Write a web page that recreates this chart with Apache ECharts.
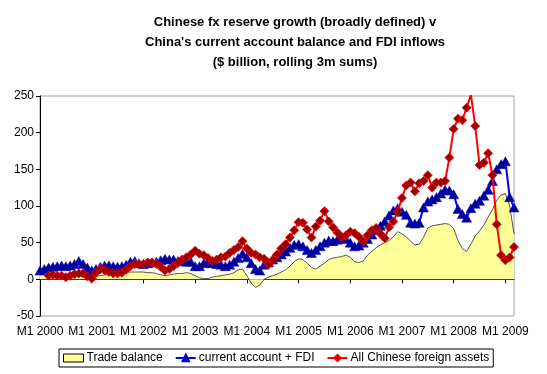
<!DOCTYPE html>
<html>
<head>
<meta charset="utf-8">
<script src="https://cdn.jsdelivr.net/npm/echarts@6/dist/echarts.min.js"></script>
<style>
html,body{margin:0;padding:0;background:#fff;}
#chart{width:547px;height:374px;}
</style>
</head>
<body>
<div id="chart"></div>
<script>
var years = [2000, 2001, 2002, 2003, 2004, 2005, 2006, 2007, 2008, 2009];
var monthsInLastYear = 3;
var yTicks = { min: -50, max: 250, interval: 50 };
var seriesNames = ['Trade balance', 'current account + FDI', 'All Chinese foreign assets'];

var tradeBalance = [6,7,7,7,7,6,6,7,6,5,4,3,3,4,5,6,7,8,9,10,10,10,10,10,10,9,9,8,6,5,6,7,8,8,9,8,5,2,1,1,3,4,5,6,7,9,13,14,5,-5,-11,-8,0,3,5,7,10,13,18,24,28,27,22,16,14,18,22,27,29,30,31,33,30,24,23,25,33,38,43,47,50,53,58,65,62,58,52,47,48,57,70,73,74,75,76,75,69,53,42,38,48,59,66,74,85,95,108,115,117,100,62];

var caPlusFdi = [12,14,16,17,18,19,18,19,21,25,21,16,12,14,17,19,19,18,17,18,20,24,25,22,21,22,23,24,26,28,27,27,25,25,24,24,18,18,22,24,22,21,20,18,20,24,29,35,30,22,14,12,20,23,27,30,34,38,43,47,48,45,40,36,40,45,50,53,52,54,57,55,50,45,46,50,55,61,67,73,79,87,94,97,92,88,77,76,77,98,106,109,112,117,122,121,116,96,89,84,97,103,107,114,122,134,150,157,161,112,98];

var foreignAssets = [null,null,5,6,5,5,3,5,7,8,8,4,1,9,14,12,10,8,8,9,13,18,21,20,21,23,23,21,17,12,14,18,22,27,30,34,39,35,33,29,25,27,30,31,36,40,44,52,42,36,34,30,28,20,26,34,42,48,57,67,78,77,68,57,72,80,93,79,71,64,58,60,65,63,58,52,60,67,70,62,56,71,79,92,111,128,132,120,131,134,142,125,132,132,134,166,205,219,217,234,252,209,156,159,172,142,75,33,26,30,44];

var categories = [];
years.forEach(function (y, yi) {
  var n = (yi === years.length - 1) ? monthsInLastYear : 12;
  for (var m = 1; m <= n; m++) categories.push('M' + m + ' ' + y);
});
function isJan(i) { return i % 12 === 0; }

var chart = echarts.init(document.getElementById('chart'), null, { renderer: 'canvas' });
var font = 'Arial, "Liberation Sans", sans-serif';
chart.setOption({
  animation: false,
  backgroundColor: '#ffffff',
  title: {
    text: "Chinese fx reserve growth (broadly defined) v\nChina's current account balance and FDI inflows\n($ billion, rolling 3m sums)",
    left: 290,
    top: 7,
    textAlign: 'center',
    textStyle: { fontFamily: font, fontSize: 13, fontWeight: 'bold', color: '#000', lineHeight: 20 }
  },
  grid: {
    left: 40, top: 96, right: 33, bottom: 58,
    show: true, borderColor: '#a0a0a0', borderWidth: 1
  },
  legend: {
    left: 59, top: 349,
    padding: [3, 4, 3, 4],
    borderColor: '#000', borderWidth: 1,
    itemWidth: 20, itemHeight: 8, itemGap: 12,
    textStyle: { fontFamily: font, fontSize: 12, color: '#000', padding: [0, 0, 0, -2] },
    data: [
      { name: seriesNames[0], icon: 'rect', itemStyle: { color: '#FFFF99', borderColor: '#000', borderWidth: 1 } },
      { name: seriesNames[1] },
      { name: seriesNames[2] }
    ]
  },
  xAxis: [
    {
      type: 'category', data: categories, boundaryGap: false, position: 'bottom',
      axisLine: { show: false, onZero: false },
      axisTick: { show: false },
      axisLabel: {
        interval: function (i) { return isJan(i); },
        fontFamily: font, fontSize: 12, color: '#000', margin: 10
      },
      splitLine: { show: false }
    },
    {
      type: 'category', data: categories, boundaryGap: false, position: 'bottom',
      axisLine: { show: true, onZero: true, lineStyle: { color: '#000', width: 1 } },
      axisTick: { show: true, interval: function (i) { return isJan(i); }, length: 4, lineStyle: { color: '#000' } },
      axisLabel: { show: false },
      splitLine: { show: false }
    }
  ],
  yAxis: {
    type: 'value', min: yTicks.min, max: yTicks.max, interval: yTicks.interval,
    axisLine: { show: true, lineStyle: { color: '#000' } },
    axisTick: { show: true, length: 4, lineStyle: { color: '#000' } },
    axisLabel: { fontFamily: font, fontSize: 12, color: '#000', margin: 6 },
    splitLine: { show: false }
  },
  series: [
    {
      name: seriesNames[0], type: 'line', data: tradeBalance, xAxisIndex: 0,
      symbol: 'none', smooth: false,
      lineStyle: { color: '#555555', width: 1 },
      itemStyle: { color: '#FFFF99', borderColor: '#000' },
      areaStyle: { color: '#FFFF99', opacity: 1 },
      z: 1
    },
    {
      name: seriesNames[1], type: 'line', data: caPlusFdi, xAxisIndex: 0,
      symbol: 'triangle', symbolSize: [10, 9], showSymbol: true, showAllSymbol: true,
      lineStyle: { color: '#0000FF', width: 2 },
      itemStyle: { color: '#000099', borderColor: '#0000CC', borderWidth: 0.5 },
      z: 3
    },
    {
      name: seriesNames[2], type: 'line', data: foreignAssets, xAxisIndex: 0,
      symbol: 'diamond', symbolSize: 9, showSymbol: true, showAllSymbol: true,
      lineStyle: { color: '#FF0000', width: 2 },
      itemStyle: { color: '#990000', borderColor: '#FF0000', borderWidth: 0.8 },
      z: 4
    }
  ]
});
</script>
</body>
</html>
